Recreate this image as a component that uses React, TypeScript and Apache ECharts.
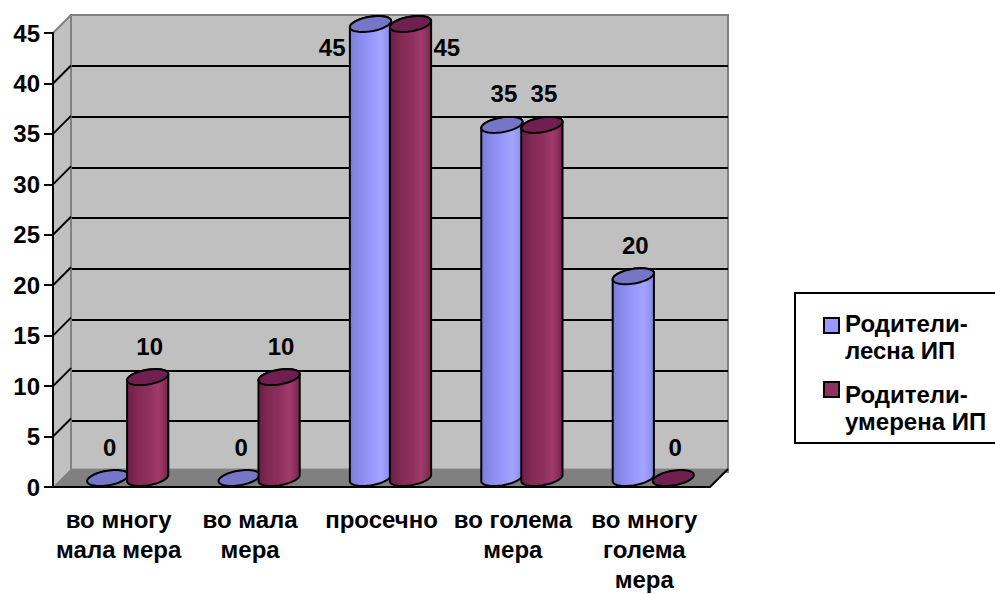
import React, { useEffect, useRef } from "react";
import * as echarts from "echarts";

// Categories on the horizontal axis
const CATEGORIES = [
  "во многу\nмала мера",
  "во мала\nмера",
  "просечно",
  "во голема\nмера",
  "во многу\nголема\nмера",
];

// Series names, as shown in the legend
const SERIES_NAMES = ["Родители-\nлесна ИП", "Родители-\nумерена ИП"];

// Values per category
const EASY_ID = [0, 0, 45, 35, 20];
const MODERATE_ID = [10, 10, 45, 35, 0];

// Value axis ticks
const Y_TICKS = [0, 5, 10, 15, 20, 25, 30, 35, 40, 45];

const FONT = "Arial, 'Liberation Sans', sans-serif";

// Oblique 3D offset of the back wall relative to the front plane
const DEPTH_X = 18;
const DEPTH_Y = 18;
// Cylinder radius (horizontal) and projected depth radius
const R_X = 19;
const R_D = 8;
const HALF_GAP = 20;

const STYLES = [
  {
    stops: [
      { offset: 0, color: "#7c7cd6" },
      { offset: 0.25, color: "#8b8bee" },
      { offset: 0.55, color: "#9999ff" },
      { offset: 0.75, color: "#a4a4ff" },
      { offset: 0.9, color: "#9494f4" },
      { offset: 1, color: "#7f7fdc" },
    ],
    top: "#7676c9",
  },
  {
    stops: [
      { offset: 0, color: "#6c1e45" },
      { offset: 0.25, color: "#822955" },
      { offset: 0.55, color: "#903060" },
      { offset: 0.75, color: "#a03c6b" },
      { offset: 0.9, color: "#8c2e5b" },
      { offset: 1, color: "#72214c" },
    ],
    top: "#702050",
  },
];

function ellipsePts(cx: number, cy: number, t0: number, t1: number, n: number) {
  const pts: number[][] = [];
  for (let i = 0; i <= n; i++) {
    const t = t0 + ((t1 - t0) * i) / n;
    pts.push([cx + R_X * Math.cos(t) + R_D * Math.sin(t), cy - R_D * Math.sin(t)]);
  }
  return pts;
}

function cylinderRenderer(seriesIdx: number) {
  const st = STYLES[seriesIdx];
  return (params: any, api: any) => {
    const idx = api.value(0);
    const val = api.value(1);
    const [fx, fy0] = api.coord([idx, 0]);
    const fyv = api.coord([idx, val])[1];
    const backTop = api.coord([idx, Y_TICKS[Y_TICKS.length - 1]])[1] - DEPTH_Y;
    const cx = fx + DEPTH_X / 2 + (seriesIdx === 0 ? -1 : 1) * HALF_GAP;
    const cyBot = fy0 - DEPTH_Y / 2;
    const cyTop = fyv - DEPTH_Y / 2;
    const t0 = Math.atan2(R_D, R_X);
    const zBase = val === 0 ? 1 : 5;
    const children: any[] = [];

    if (val > 0) {
      const body = [
        ...ellipsePts(cx, cyTop, t0, t0 + Math.PI, 30),
        ...ellipsePts(cx, cyBot, t0 + Math.PI, t0 + 2 * Math.PI, 30),
      ];
      children.push({
        type: "polygon",
        z2: zBase,
        shape: { points: body },
        style: {
          fill: { type: "linear", x: 0, y: 0, x2: 1, y2: 0, colorStops: st.stops },
          stroke: "#000",
          lineWidth: 2,
        },
      });
    }
    children.push({
      type: "polygon",
      z2: zBase + 1,
      shape: { points: ellipsePts(cx, cyTop, 0, 2 * Math.PI, 60) },
      style: { fill: st.top, stroke: "#000", lineWidth: 2 },
    });

    // value label above the cylinder, or beside it when there is no room above
    let lx = cx + 2;
    let ly = cyTop - 31;
    let align = "center";
    if (ly - 12 < backTop) {
      ly = cyTop + 23;
      if (seriesIdx === 0) {
        lx = cx - R_X - 6;
        align = "right";
      } else {
        lx = cx + R_X + 4;
        align = "left";
      }
    }
    children.push({
      type: "text",
      z2: 50,
      style: {
        text: String(val),
        x: lx,
        y: ly,
        align,
        verticalAlign: "middle",
        fontSize: 24,
        fontWeight: "bold",
        fontFamily: FONT,
        fill: "#000",
      },
    });
    return { type: "group", children };
  };
}

// Side wall, floor and the connectors between front ticks and back gridlines
function frameRenderer(params: any, api: any) {
  const band = api.size([1, 0])[0];
  const left = api.coord([0, 0])[0] - band / 2;
  const right = api.coord([CATEGORIES.length - 1, 0])[0] + band / 2;
  const yBase = api.coord([0, 0])[1];
  const yTop = api.coord([0, Y_TICKS[Y_TICKS.length - 1]])[1];
  const children: any[] = [];
  children.push({
    type: "polygon",
    z2: 0,
    shape: {
      points: [
        [left, yBase],
        [left, yTop],
        [left + DEPTH_X, yTop - DEPTH_Y],
        [left + DEPTH_X, yBase - DEPTH_Y],
      ],
    },
    style: { fill: "#c0c0c0" },
  });
  children.push({
    type: "line",
    z2: 0,
    shape: { x1: left, y1: yTop, x2: left + DEPTH_X, y2: yTop - DEPTH_Y },
    style: { stroke: "#808080", lineWidth: 2 },
  });
  children.push({
    type: "line",
    z2: 0,
    shape: { x1: left + DEPTH_X, y1: yTop - DEPTH_Y, x2: left + DEPTH_X, y2: yBase - DEPTH_Y },
    style: { stroke: "#808080", lineWidth: 2 },
  });
  Y_TICKS.slice(1, -1).forEach((v) => {
    const y = api.coord([0, v])[1];
    children.push({
      type: "line",
      z2: 0,
      shape: { x1: left, y1: y, x2: left + DEPTH_X, y2: y - DEPTH_Y },
      style: { stroke: "#000", lineWidth: 2 },
    });
  });
  children.push({
    type: "polygon",
    z2: 0,
    shape: {
      points: [
        [left, yBase],
        [right, yBase],
        [right + DEPTH_X, yBase - DEPTH_Y],
        [left + DEPTH_X, yBase - DEPTH_Y],
      ],
    },
    style: { fill: "#808080", stroke: "#8a8a8a", lineWidth: 1 },
  });
  children.push({
    type: "line",
    z2: 0,
    shape: { x1: right, y1: yBase, x2: right + DEPTH_X, y2: yBase - DEPTH_Y },
    style: { stroke: "#000", lineWidth: 2 },
  });
  return { type: "group", children };
}

const LEGEND_X = 795;
const LEGEND_Y = 293;

function legendGraphics() {
  const items: any[] = [
    {
      type: "rect",
      shape: { x: LEGEND_X, y: LEGEND_Y, width: 215, height: 150 },
      style: { fill: "#fff", stroke: "#000", lineWidth: 2 },
    },
  ];
  SERIES_NAMES.forEach((name, i) => {
    const top = LEGEND_Y + 17 + i * 71;
    items.push({
      type: "rect",
      shape: { x: LEGEND_X + 29, y: LEGEND_Y + 25 + i * 64, width: 15, height: 15 },
      style: { fill: STYLES[i].stops[2].color, stroke: "#000", lineWidth: 2 },
    });
    items.push({
      type: "text",
      x: LEGEND_X + 50,
      y: top,
      style: {
        text: name,
        fontSize: 24,
        fontWeight: "bold",
        fontFamily: FONT,
        lineHeight: 27,
        fill: "#000",
        verticalAlign: "top",
      },
    });
  });
  return items;
}

export default function App() {
  const ref = useRef<HTMLDivElement>(null);
  useEffect(() => {
    if (!ref.current) return;
    const chart = echarts.init(ref.current, undefined, { renderer: "svg" });
    const yMax = Y_TICKS[Y_TICKS.length - 1];
    const yStep = Y_TICKS[1] - Y_TICKS[0];
    chart.setOption({
      animation: false,
      backgroundColor: "#fff",
      grid: [
        { left: 53, right: 285, top: 33, bottom: 104, show: false },
        {
          left: 53 + DEPTH_X,
          right: 285 - DEPTH_X,
          top: 33 - DEPTH_Y,
          bottom: 104 + DEPTH_Y,
          show: true,
          backgroundColor: "#c0c0c0",
          borderColor: "#808080",
          borderWidth: 2,
        },
      ],
      xAxis: [
        {
          type: "category",
          gridIndex: 0,
          data: CATEGORIES,
          z: 10,
          axisLine: { lineStyle: { color: "#000", width: 2 } },
          axisTick: { length: 9, lineStyle: { color: "#000", width: 2 } },
          axisLabel: {
            interval: 0,
            margin: 17,
            fontSize: 24,
            fontWeight: "bold",
            fontFamily: FONT,
            color: "#000",
            lineHeight: 30,
            verticalAlign: "top",
          },
          splitLine: { show: false },
        },
        { type: "value", gridIndex: 1, show: false, min: 0, max: 1 },
      ],
      yAxis: [
        {
          type: "value",
          gridIndex: 0,
          min: 0,
          max: yMax,
          interval: yStep,
          z: 10,
          axisLine: { show: true, lineStyle: { color: "#000", width: 2 } },
          axisTick: { show: true, length: 9, lineStyle: { color: "#000", width: 2 } },
          axisLabel: {
            margin: 13,
            fontSize: 24,
            fontWeight: "bold",
            fontFamily: FONT,
            color: "#000",
          },
          splitLine: { show: false },
        },
        {
          type: "value",
          gridIndex: 1,
          min: 0,
          max: yMax,
          interval: yStep,
          axisLine: { show: false },
          axisTick: { show: false },
          axisLabel: { show: false },
          splitLine: {
            show: true,
            showMinLine: false,
            showMaxLine: false,
            lineStyle: { color: "#000", width: 2 },
          },
        },
      ],
      series: [
        {
          type: "custom",
          name: "frame",
          xAxisIndex: 0,
          yAxisIndex: 0,
          renderItem: frameRenderer,
          data: [[0, 0]],
          silent: true,
        },
        {
          type: "custom",
          name: SERIES_NAMES[0],
          xAxisIndex: 0,
          yAxisIndex: 0,
          renderItem: cylinderRenderer(0),
          data: EASY_ID.map((v, i) => [i, v]),
        },
        {
          type: "custom",
          name: SERIES_NAMES[1],
          xAxisIndex: 0,
          yAxisIndex: 0,
          renderItem: cylinderRenderer(1),
          data: MODERATE_ID.map((v, i) => [i, v]),
        },
      ],
      graphic: legendGraphics(),
    });
    return () => chart.dispose();
  }, []);
  return (
    <div
      ref={ref}
      style={{ position: "fixed", left: 0, top: 0, width: 995, height: 594, background: "#fff" }}
    />
  );
}
